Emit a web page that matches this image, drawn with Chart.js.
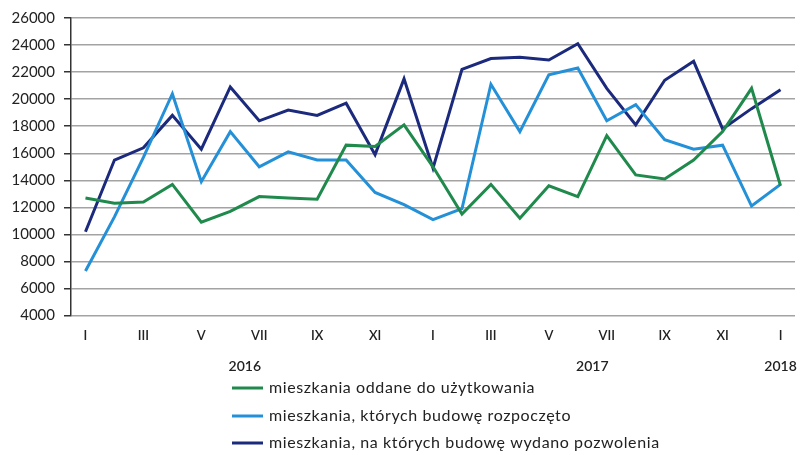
<!DOCTYPE html>
<html>
<head>
<meta charset="utf-8">
<script src="https://cdn.jsdelivr.net/npm/chart.js@4"></script>
<style>
html,body{margin:0;padding:0;background:#fff;}
#wrap{width:800px;height:455px;position:relative;}
</style>
</head>
<body>
<div id="wrap"><canvas id="c" width="800" height="455"></canvas></div>
<script>
const months = ['I','II','III','IV','V','VI','VII','VIII','IX','X','XI','XII',
                'I','II','III','IV','V','VI','VII','VIII','IX','X','XI','XII','I'];
const monthYears = ['2016','2016','2016','2016','2016','2016','2016','2016','2016','2016','2016','2016',
                    '2017','2017','2017','2017','2017','2017','2017','2017','2017','2017','2017','2017','2018'];
const oddane = [12700,12300,12400,13700,10900,11700,12800,12700,12600,16600,16500,18100,
                15000,11500,13700,11200,13600,12800,17300,14400,14100,15500,17600,20800,13600];
const rozpoczete = [7300,11300,15700,20400,13900,17600,15000,16100,15500,15500,13100,12200,
                    11100,11900,21100,17600,21800,22300,18400,19600,17000,16300,16600,12100,13700];
const pozwolenia = [10200,15500,16400,18800,16300,20900,18400,19200,18800,19700,15900,21500,
                    14900,22200,23000,23100,22900,24100,20800,18100,21400,22800,17800,19300,20700];
const seriesNames = ['mieszkania oddane do użytkowania',
                     'mieszkania, których budowę rozpoczęto',
                     'mieszkania, na których budowę wydano pozwolenia'];
const yMin = 4000, yMax = 26000, yStep = 2000;

// year group centres derived from the category list
const yearNames = [...new Set(monthYears)];
const yearCenters = yearNames.map(y => {
  const f = monthYears.indexOf(y), l = monthYears.lastIndexOf(y);
  return (f + l) / 2;
});

const FONT = 'Lato, "Open Sans", sans-serif';
const TXT = '#222';

const legendPlugin = {
  id: 'vlegend',
  afterDraw(chart) {
    const ctx = chart.ctx;
    ctx.save();
    const x0 = 232, lineLen = 31, rows = [388, 416, 443];
    chart.data.datasets.forEach((ds, i) => {
      const y = rows[i];
      ctx.strokeStyle = ds.borderColor;
      ctx.lineWidth = 3;
      ctx.beginPath();
      ctx.moveTo(x0, y);
      ctx.lineTo(x0 + lineLen, y);
      ctx.stroke();
      ctx.fillStyle = TXT;
      ctx.font = '16px ' + FONT;
      if ('letterSpacing' in ctx) ctx.letterSpacing = '0.6px';
      ctx.textBaseline = 'middle';
      ctx.textAlign = 'left';
      ctx.fillText(ds.label, x0 + lineLen + 6, y);
    });
    ctx.restore();
  }
};

new Chart(document.getElementById('c'), {
  type: 'line',
  data: {
    labels: months,
    datasets: [
      {label: seriesNames[0], data: oddane, borderColor: '#1f8a4c', backgroundColor: '#1f8a4c'},
      {label: seriesNames[1], data: rozpoczete, borderColor: '#2390d8', backgroundColor: '#2390d8'},
      {label: seriesNames[2], data: pozwolenia, borderColor: '#1b2a7c', backgroundColor: '#1b2a7c'}
    ]
  },
  options: {
    responsive: false,
    animation: false,
    devicePixelRatio: 1,
    layout: {padding: {left: 0, right: 5, top: 12, bottom: 77}},
    elements: {
      line: {borderWidth: 3, tension: 0, borderJoinStyle: 'miter'},
      point: {radius: 0, hoverRadius: 0}
    },
    plugins: {legend: {display: false}, tooltip: {enabled: false}},
    scales: {
      y: {
        min: yMin, max: yMax,
        ticks: {stepSize: yStep, color: TXT, font: {family: FONT, size: 15}, padding: 9,
                callback: (v) => String(v)},
        grid: {color: '#a3a3a3', lineWidth: 1.5, tickColor: '#333', tickLength: 7, drawTicks: true},
        border: {display: true, color: '#333', width: 1.5},
        afterFit(s) { s.width = 71; }
      },
      x: {
        type: 'category',
        offset: true,
        weight: 1,
        grid: {display: false},
        border: {display: false},
        ticks: {
          autoSkip: false, maxRotation: 0, color: TXT, padding: 4,
          font: {family: FONT, size: 13, weight: '600'},
          callback: (v, i) => (i % 2 === 0 ? months[i] : '')
        }
      },
      years: {
        type: 'linear',
        position: 'bottom',
        weight: 2,
        min: -0.5, max: months.length - 0.5,
        grid: {display: false},
        border: {display: false},
        afterBuildTicks(axis) { axis.ticks = yearCenters.map(v => ({value: v})); },
        ticks: {
          autoSkip: false, maxRotation: 0, color: TXT, padding: 3,
          font: {family: FONT, size: 14, weight: '600'},
          callback: (v) => { const k = yearCenters.indexOf(v); return k >= 0 ? yearNames[k] : ''; }
        }
      }
    }
  },
  plugins: [legendPlugin]
});
</script>
</body>
</html>
